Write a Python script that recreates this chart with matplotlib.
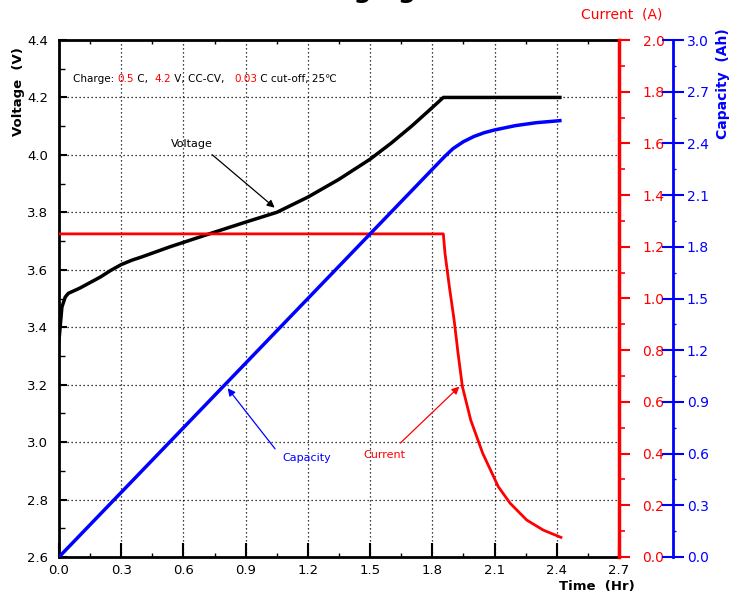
import matplotlib
matplotlib.use("Agg")
import matplotlib.pyplot as plt
from matplotlib.ticker import MultipleLocator

plt.rcParams['font.family'] = ['DejaVu Sans']

# charge data
t_volt = [0, 0.014, 0.03, 0.045, 0.1, 0.2, 0.25, 0.3, 0.35, 0.4, 0.535, 0.75, 0.9,
          1.05, 1.2, 1.35, 1.5, 1.6, 1.7, 1.8, 1.853, 2.415]
voltage = [3.355, 3.47, 3.505, 3.518, 3.536, 3.575, 3.598, 3.618, 3.633, 3.645, 3.68,
           3.731, 3.766, 3.80, 3.853, 3.915, 3.985, 4.04, 4.1, 4.165, 4.2, 4.2]

t_curr = [0, 1.853, 1.861, 1.882, 1.905, 1.924, 1.945, 1.985, 2.043, 2.118,
          2.175, 2.255, 2.335, 2.42]
current = [1.25, 1.25, 1.175, 1.046, 0.917, 0.788, 0.659, 0.53, 0.401, 0.272,
           0.208, 0.143, 0.104, 0.076]

t_cap = [0, 1.853, 1.87, 1.9, 1.95, 2.0, 2.05, 2.1, 2.2, 2.3, 2.415]
capacity = [0, 2.316, 2.336, 2.37, 2.41, 2.44, 2.462, 2.478, 2.503, 2.52, 2.532]

RED = '#ff0000'
BLUE = '#0000ff'
grid_style = (0, (1, 2.2))

fig = plt.figure(figsize=(7.42, 5.96), dpi=100)
ax = fig.add_axes([59/742, 1-557/596, 560/742, 517/596])

# voltage axis (left)
ax.plot(t_volt, voltage, color='black', lw=2.5, zorder=5)
ax.set_xlim(0, 2.7)
ax.set_ylim(2.6, 4.4)
ax.xaxis.set_major_locator(MultipleLocator(0.3))
ax.xaxis.set_minor_locator(MultipleLocator(0.15))
ax.yaxis.set_major_locator(MultipleLocator(0.2))
ax.yaxis.set_minor_locator(MultipleLocator(0.1))
ax.xaxis.set_major_formatter(plt.FormatStrFormatter('%.1f'))
ax.yaxis.set_major_formatter(plt.FormatStrFormatter('%.1f'))
ax.grid(True, which='major', color='black', linestyle=grid_style, lw=0.9)
ax.tick_params(axis='x', which='major', direction='in', length=10, width=1.5,
               labelsize=9.5, pad=5)
ax.tick_params(axis='x', which='minor', direction='in', length=3, width=1, top=True)
ax.tick_params(axis='y', which='major', direction='in', length=6, width=1.5,
               labelsize=9.5, pad=8)
ax.tick_params(axis='y', which='minor', direction='in', length=4, width=1, right=True)
for s in ['left', 'bottom', 'top']:
    ax.spines[s].set_linewidth(2)
ax.text(-0.073, 0.9, 'Voltage  (V)', transform=ax.transAxes, rotation=90,
        fontsize=9.5, fontweight='bold', ha='center', va='center')
ax.text(0.96, -0.058, 'Time  (Hr)', transform=ax.transAxes,
        fontsize=9.5, fontweight='bold', ha='center', va='center')

# current axis (first right)
ax2 = ax.twinx()
ax2.plot(t_curr, current, color=RED, lw=2, zorder=4)
ax2.set_ylim(0, 2.0)
ax2.yaxis.set_major_locator(MultipleLocator(0.2))
ax2.yaxis.set_minor_locator(MultipleLocator(0.1))
ax2.yaxis.set_major_formatter(plt.FormatStrFormatter('%.1f'))
ax2.spines['right'].set_color(RED)
ax2.spines['right'].set_linewidth(2.5)
for s in ['left', 'top', 'bottom']:
    ax2.spines[s].set_visible(False)
ax2.tick_params(axis='y', which='major', direction='out', length=8, width=1.5,
                colors=RED, labelsize=10, pad=9)
ax2.tick_params(axis='y', which='minor', direction='out', length=4, width=1.2, colors=RED)
ax2.text(1.005, 1.05, 'Current  (A)', transform=ax.transAxes, color=RED,
         fontsize=10, ha='center', va='center')

# capacity axis (second right)
ax3 = ax.twinx()
ax3.plot(t_cap, capacity, color=BLUE, lw=2.5, zorder=4)
ax3.set_ylim(0, 3.0)
ax3.yaxis.set_major_locator(MultipleLocator(0.3))
ax3.yaxis.set_minor_locator(MultipleLocator(0.15))
ax3.yaxis.set_major_formatter(plt.FormatStrFormatter('%.1f'))
ax3.spines['right'].set_position(('axes', (673-59)/560))
ax3.spines['right'].set_color(BLUE)
ax3.spines['right'].set_linewidth(2)
for s in ['left', 'top', 'bottom']:
    ax3.spines[s].set_visible(False)
ax3.tick_params(axis='y', which='major', direction='inout', length=16, width=1.5,
                colors=BLUE, labelsize=10, pad=2)
ax3.tick_params(axis='y', which='minor', direction='out', length=2, width=1, colors=BLUE)
ax3.text(1.186, 0.915, 'Capacity  (Ah)', transform=ax.transAxes, rotation=90,
         color=BLUE, fontsize=10, fontweight='bold', ha='center', va='center')

# charge condition line, black and red pieces chained one after another
pieces = [('Charge: ', 'black'), ('0.5', RED), (' C,  ', 'black'), ('4.2', RED),
          (' V, CC-CV,   ', 'black'), ('0.03', RED), (' C cut-off, 25\u2103', 'black')]
prev = ax.text(0.025, 0.925, pieces[0][0], transform=ax.transAxes,
               fontsize=7.5, color=pieces[0][1], va='center', ha='left', zorder=10)
for txt, col in pieces[1:]:
    prev = ax.annotate(txt, xy=(1, 0), xycoords=prev, color=col, fontsize=7.5,
                       va='bottom', ha='left', zorder=10)

# curve labels with arrows (drawn in voltage coordinates)
ax.annotate('', xy=(1.05, 3.81), xytext=(0.728, 4.007),
            arrowprops=dict(arrowstyle='-|>', color='black', lw=0.9, mutation_scale=11))
ax.text(0.641, 4.038, 'Voltage', fontsize=8, ha='center', va='center')

ax.annotate('', xy=(0.805, 3.195), xytext=(1.05, 2.969),
            arrowprops=dict(arrowstyle='-|>', color=BLUE, lw=0.9, mutation_scale=11))
ax.text(1.075, 2.944, 'Capacity', fontsize=8, color=BLUE, ha='left', va='center')

ax.annotate('', xy=(1.94, 3.2), xytext=(1.636, 2.99),
            arrowprops=dict(arrowstyle='-|>', color=RED, lw=0.9, mutation_scale=11))
ax.text(1.567, 2.955, 'Current', fontsize=8, color=RED, ha='center', va='center')

# title sits mostly above the visible area in the reference
fig.text(0.535, 1.004, 'Charging Curve', fontsize=18, fontweight='bold',
         ha='center', va='baseline')

fig.savefig('out.png', dpi=100)
